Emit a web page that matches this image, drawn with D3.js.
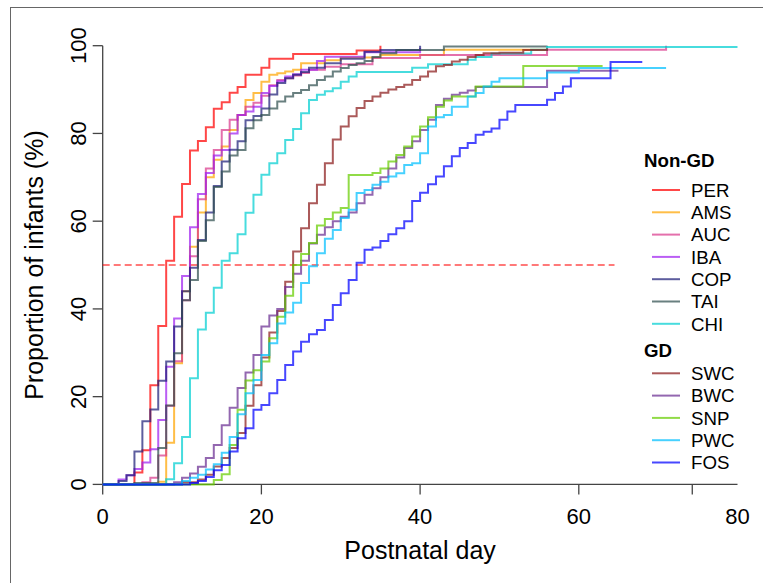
<!DOCTYPE html>
<html>
<head>
<meta charset="utf-8">
<script src="https://cdn.jsdelivr.net/npm/d3@7"></script>
<style>
  body { margin: 0; background: #fff; }
  svg { display: block; font-family: "Liberation Sans", Arial, sans-serif; }
</style>
</head>
<body>
<div id="chart"></div>
<script>
// Cumulative proportion (%) of infants by postnatal day, [day, percent]
const PER = [[0,0],[4,2.7],[5,7.8],[6,22.6],[7,36.1],[8,51],[9,61],[10,68.5],[11,76.1],[12,78.3],[13,81.4],[14,85.6],[15,87.1],[16,89.3],[17,90.6],[18,93.4],[20,95],[21,97],[24,98.1],[32,98.9],[35,100]];
const AMS = [[0,0],[7,0.6],[8,9.5],[9,27.6],[10,44],[11,54.2],[12,62],[13,70],[14,74],[15,77],[16,80.8],[17,84.2],[18,87.6],[19,89.2],[20,91.8],[21,93.4],[22,93.7],[23,94.1],[24,94.5],[25,96],[28,96.7],[30,97.3],[35,97.9],[43,99.1],[56,99.1]];
const AUC = [[0,0],[5,0.5],[6,1.5],[7,6.6],[8,17.9],[9,28.1],[10,42],[11,52],[12,65],[13,72],[14,76.2],[15,80.8],[16,83.1],[17,84.2],[18,86.1],[19,87],[20,88.6],[21,91],[22,92.2],[23,92.6],[24,93.2],[25,93.8],[26,94.5],[28,95.2],[30,95.8],[34,97.2],[40,97.9],[56,99.1],[71,100]];
const IBA = [[0,0],[2,1.1],[3,2.1],[4,3.5],[5,5],[6,8],[7,14.7],[8,26.8],[9,37.8],[10,47.5],[11,58.6],[12,66.2],[13,71],[14,75],[15,76.2],[16,80],[17,84.2],[18,85],[19,86.1],[20,89.2],[21,90.8],[22,91.9],[23,93],[24,93.5],[25,94.5],[27,96.5],[28,97.5],[33,98.5],[40,99.5]];
const COP = [[0,0],[2,0.8],[3,2.1],[4,7.5],[5,14.4],[6,17.1],[7,23.6],[8,28],[9,36],[10,44],[11,49.4],[12,55.7],[13,62],[14,68],[15,73.6],[16,76.3],[17,78.2],[18,83],[19,84],[20,85.7],[21,88.9],[22,91.5],[23,92.6],[24,93.4],[25,94],[26,95],[28,96],[30,97],[33,98.6],[35,99],[40,100]];
const TAI = [[0,0],[4,0.3],[7,8.3],[8,18],[9,29.9],[10,42],[11,46.6],[12,55.5],[13,60.2],[14,67.8],[15,71.3],[16,75],[17,76.2],[18,81.2],[19,83],[20,84.2],[21,85.7],[22,87.3],[23,88.4],[24,89.2],[25,89.9],[26,91],[27,92.2],[28,93],[29,94.1],[30,94.9],[31,95.6],[32,96],[33,96.5],[34,97.4],[35,98.3],[37,99],[43,99.8],[56,100]];
const CHI = [[0,0],[8,1.2],[9,4.8],[10,10.8],[11,24.2],[12,35.3],[13,39.1],[14,44.8],[15,51],[16,52.7],[17,57],[18,61.9],[19,66],[20,70.6],[21,73.2],[22,75.5],[23,78.5],[24,81],[25,84.6],[26,87.6],[27,88.8],[28,89.6],[29,90.3],[30,91.8],[31,93],[32,94],[39,95],[41,95.8],[46,96.8],[47,97.4],[49,98.2],[54,99.1],[56,99.7],[80,99.7]];
const SWC = [[0,0],[10,0.5],[12,1.1],[13,2.2],[14,4.1],[15,6],[16,8.3],[17,11.7],[18,17.9],[19,22.6],[20,28.9],[21,34.6],[22,39.5],[23,46.2],[24,53.1],[25,58.4],[26,64.1],[27,68.3],[28,73.2],[29,78.6],[30,81.6],[31,83.9],[32,85.8],[33,87.4],[34,88.4],[35,89.3],[36,90],[37,90.6],[38,91.1],[39,92.2],[40,93],[41,94.1],[42,95.3],[43,95.6],[44,96.4],[45,96.8],[46,97.4],[47,97.9],[48,98.3],[50,98.4],[53,99],[56,99.4]];
const BWC = [[0,0],[9,0.5],[10,1.5],[11,2.5],[12,4],[13,6],[14,9],[15,13.5],[16,17.5],[17,22],[18,25.5],[19,29.5],[20,36],[21,38.5],[22,40],[23,45],[24,48],[25,51],[26,54.9],[27,56.9],[28,58.6],[29,60],[30,61],[31,62],[32,64.1],[33,66],[34,67.5],[35,70],[36,72],[37,74.5],[38,76.7],[39,78.2],[40,80.8],[41,83.1],[42,86.5],[43,87.9],[44,88.8],[45,89.3],[46,89.8],[47,90.6],[56,94.3],[65,94.3]];
const SNP = [[0,0],[14,1],[15,2.3],[16,9],[17,17],[18,23.7],[19,26],[20,28],[21,33.3],[22,38.2],[23,43],[24,50],[25,52.5],[26,55],[27,59],[28,60.5],[29,62],[30,63],[31,70.5],[34,71],[35,72],[36,73.6],[37,75.1],[38,77],[39,79.3],[40,81.6],[41,83.7],[42,86.1],[43,87.5],[44,88.4],[47,90.7],[53,95.4],[63,95.4]];
const PWC = [[0,0],[10,0.8],[11,1.5],[12,2.2],[13,3.4],[14,4.6],[15,7.2],[16,10.8],[17,16],[18,20.8],[19,23.8],[20,29.5],[21,32.2],[22,36.7],[23,39.2],[24,41.4],[25,45.9],[26,49.7],[27,52.7],[28,56],[29,58],[30,60.7],[31,62.6],[32,66.4],[33,67.1],[34,68.3],[35,69],[36,70.2],[37,70.9],[38,72.8],[39,73.2],[40,75.5],[41,81.6],[42,83.7],[43,84.2],[44,86.1],[46,88.4],[47,89.2],[48,90.7],[49,91.8],[50,92.6],[56,93.9],[60,94.9],[71,94.9]];
const FOS = [[0,0],[11,0.3],[12,0.8],[13,1.7],[14,3.2],[15,4.4],[16,7.5],[17,10.5],[18,12.8],[19,17],[20,18.1],[21,20.8],[22,23.8],[23,27.2],[24,30.3],[25,32.5],[26,34.2],[27,35.2],[28,37.5],[29,40.9],[30,43.6],[31,46.6],[32,50.5],[33,53.5],[34,54],[35,55.5],[36,57],[37,58.4],[38,60],[39,64.6],[40,66.5],[41,68.4],[42,70.2],[43,72.5],[44,74.8],[45,76.7],[46,77.8],[47,79.7],[48,80.4],[49,81.1],[50,83.1],[51,85],[52,86.5],[56,87.7],[57,89.2],[58,90.7],[59,92.6],[64,96.3],[68,96.3]];

const nonGdNames = ['PER', 'AMS', 'AUC', 'IBA', 'COP', 'TAI', 'CHI'];
const gdNames = ['SWC', 'BWC', 'SNP', 'PWC', 'FOS'];
const seriesData = { PER, AMS, AUC, IBA, COP, TAI, CHI, SWC, BWC, SNP, PWC, FOS };
const colors = {
  PER: '#ff0000', AMS: '#ffa500', AUC: '#d9398c', IBA: '#a020f0', COP: '#1e1e78', TAI: '#2f4f4f',
  CHI: '#00ced1', SWC: '#8b1a1a', BWC: '#6a2c91', SNP: '#66cd00', PWC: '#00bfff', FOS: '#0000ff'
};

const xTickMarks = [0, 20, 40, 60, 74.3];
const xTickLabels = [0, 20, 40, 60, 80];
const yTicks = [0, 20, 40, 60, 80, 100];
const refLine = { from: 0, to: 64.5, value: 50 };

const width = 763, height = 583;
const svg = d3.select('#chart').append('svg')
  .attr('width', width)
  .attr('height', height);

svg.append('rect').attr('width', width).attr('height', height).attr('fill', '#fff');

// outer frame (only top and left edges fall inside the picture)
svg.append('rect')
  .attr('x', 10.5).attr('y', 7.5)
  .attr('width', 800).attr('height', 700)
  .attr('fill', 'none').attr('stroke', '#666').attr('stroke-width', 1);

const x = d3.scaleLinear().domain([0, 80]).range([102.7, 737.5]);
const y = d3.scaleLinear().domain([0, 100]).range([484.4, 45.7]);

const axisColor = '#444';

// x axis
svg.append('line')
  .attr('x1', x(0)).attr('x2', x(80))
  .attr('y1', y(0)).attr('y2', y(0))
  .attr('stroke', axisColor).attr('stroke-width', 1.3);
svg.selectAll('.xtick').data(xTickMarks).enter().append('line')
  .attr('x1', d => x(d)).attr('x2', d => x(d))
  .attr('y1', y(0)).attr('y2', y(0) + 10)
  .attr('stroke', axisColor).attr('stroke-width', 1.3);
svg.selectAll('.xlab').data(xTickLabels).enter().append('text')
  .attr('x', d => x(d)).attr('y', 524)
  .attr('text-anchor', 'middle')
  .style('font-size', '22px')
  .text(d => d);
svg.append('text')
  .attr('x', x(40)).attr('y', 559)
  .attr('text-anchor', 'middle')
  .style('font-size', '25px')
  .text('Postnatal day');

// y axis
svg.append('line')
  .attr('x1', x(0)).attr('x2', x(0))
  .attr('y1', y(0)).attr('y2', y(100))
  .attr('stroke', axisColor).attr('stroke-width', 1.3);
svg.selectAll('.ytick').data(yTicks).enter().append('line')
  .attr('x1', x(0) - 10).attr('x2', x(0))
  .attr('y1', d => y(d)).attr('y2', d => y(d))
  .attr('stroke', axisColor).attr('stroke-width', 1.3);
svg.selectAll('.ylab').data(yTicks).enter().append('text')
  .attr('transform', d => `translate(86, ${y(d)}) rotate(-90)`)
  .attr('text-anchor', 'middle')
  .style('font-size', '22px')
  .text(d => d);
svg.append('text')
  .attr('transform', `translate(43, ${y(50)}) rotate(-90)`)
  .attr('text-anchor', 'middle')
  .style('font-size', '25px')
  .text('Proportion of infants (%)');

// 50% reference line
svg.append('line')
  .attr('x1', x(refLine.from)).attr('x2', x(refLine.to))
  .attr('y1', y(refLine.value)).attr('y2', y(refLine.value))
  .attr('stroke', '#ff0000').attr('stroke-opacity', 0.7)
  .attr('stroke-width', 1.5).attr('stroke-dasharray', '7,4');

// step curves
const line = d3.line()
  .x(d => x(d[0]))
  .y(d => y(d[1]))
  .curve(d3.curveStepAfter);

const allNames = nonGdNames.concat(gdNames);
allNames.forEach(name => {
  svg.append('path')
    .datum(seriesData[name])
    .attr('d', line)
    .attr('fill', 'none')
    .attr('stroke', colors[name])
    .attr('stroke-opacity', 0.72)
    .attr('stroke-width', 2);
});

// legend
const legend = svg.append('g');
function legendBlock(title, names, top) {
  legend.append('text')
    .attr('x', 644).attr('y', top + 6.7)
    .style('font-size', '18.7px').style('font-weight', 'bold')
    .text(title);
  names.forEach((name, i) => {
    const cy = top + (title === 'Non-GD' ? 30 : 23.3) + i * 22.3;
    legend.append('line')
      .attr('x1', 652).attr('x2', 680)
      .attr('y1', cy).attr('y2', cy)
      .attr('stroke', colors[name]).attr('stroke-opacity', 0.72)
      .attr('stroke-width', 2);
    legend.append('text')
      .attr('x', 691).attr('y', cy + 6.7)
      .style('font-size', '18.7px')
      .text(name);
  });
}
legendBlock('Non-GD', nonGdNames, 160);
legendBlock('GD', gdNames, 350);
</script>
</body>
</html>
